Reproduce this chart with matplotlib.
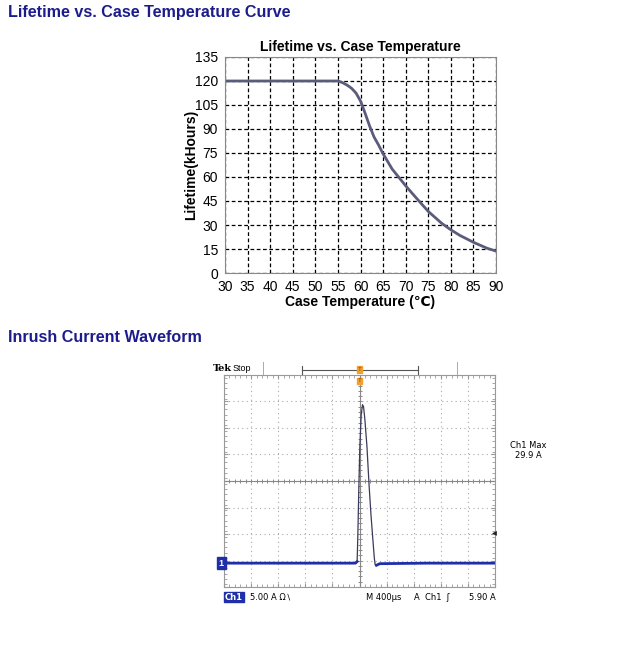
import numpy as np
import matplotlib
matplotlib.use("Agg")
import matplotlib.pyplot as plt
from matplotlib.ticker import MultipleLocator

plt.rcParams['font.family'] = ['Liberation Sans', 'DejaVu Sans']

# lifetime curve data
temp_c = [30, 35, 40, 45, 50, 55, 56, 57, 58, 59, 60, 61, 62, 63, 64, 65,
          67, 70, 72, 75, 78, 80, 82, 85, 88, 90]
life_kh = [120, 120, 120, 120, 120, 120, 119, 117.5, 115.5, 112.5, 107.5, 100,
           92, 85, 80, 74.5, 65, 54.5, 48, 38.5, 31, 27, 23.5, 19.2, 15.5, 13.7]
x_ticks = list(range(30, 91, 5))
y_ticks = list(range(0, 136, 15))

# inrush waveform data (time in us, current in A)
t_us = [-2000, -1000, -60, -35, -25, -10, 5, 25, 45, 60, 80, 110, 140, 170,
        200, 220, 232, 250, 300, 1000, 2000]
i_amp = [0.0, 0.0, 0.0, 0.3, 5.0, 14.0, 22.0, 28.0, 29.9, 29.5, 27.0, 22.0,
         15.0, 9.0, 4.0, 0.8, -0.3, -0.4, -0.1, 0.0, 0.0]
peak_amp = 29.9
trig_amp = 5.90

head_color = '#1c1c8c'

fig = plt.figure(figsize=(6.4, 6.54), dpi=100)

fig.text(8 / 640, 1 - 12 / 654, 'Lifetime vs. Case Temperature Curve',
         color=head_color, fontsize=11.6, fontweight='bold', va='center')
fig.text(8 / 640, 1 - 337 / 654, 'Inrush Current Waveform',
         color=head_color, fontsize=11.6, fontweight='bold', va='center')

# ---- lifetime chart ----
ax = fig.add_axes([225 / 640, 1 - 273 / 654, 271 / 640, 216 / 654])
ax.plot(temp_c, life_kh, color='#5b5b7b', lw=2.0, solid_capstyle='round')
ax.set_xlim(30, 90)
ax.set_ylim(0, 135)
ax.set_xticks(x_ticks)
ax.set_yticks(y_ticks)
ax.grid(True, color='black', linestyle=(0, (3, 2)), lw=0.9)
ax.tick_params(length=0, labelsize=10, pad=5)
for s in ax.spines.values():
    s.set_color('#888888')
ax.set_title('Lifetime vs. Case Temperature', fontsize=10, fontweight='bold', pad=4)
ax.set_xlabel('Case Temperature (\u2103)', fontsize=10, fontweight='bold', labelpad=1)
ax.set_ylabel('Lifetime(kHours)', fontsize=10, fontweight='bold')
ax.yaxis.set_label_coords(-0.1, 0.5)

# ---- scope screen ----
y_lo, y_hi = -4.5, 35.5
sx = fig.add_axes([224 / 640, 1 - 587 / 654, 271 / 640, 212 / 654])
sx.set_xlim(-2000, 2000)
sx.set_ylim(y_lo, y_hi)
sx.set_xticks(np.arange(-2000, 2001, 400))
sx.set_yticks(np.arange(y_lo, y_hi + 0.1, 5))
sx.xaxis.set_minor_locator(MultipleLocator(80))
sx.yaxis.set_minor_locator(MultipleLocator(1))
sx.grid(True, which='major', color='#aaaaaa', linestyle=(0, (1, 3)), lw=0.8)
sx.tick_params(which='both', direction='in', labelbottom=False, labelleft=False,
               top=True, right=True, color='#999999')
sx.tick_params(which='major', length=3)
sx.tick_params(which='minor', length=2)
for s in sx.spines.values():
    s.set_color('#999999')
y_mid = (y_lo + y_hi) / 2
sx.axhline(y_mid, color='#888888', lw=0.8)
sx.axvline(0, color='#888888', lw=0.8)
sx.plot(np.arange(-2000, 2001, 80), [y_mid] * 51, '|', color='#888888', ms=3, mew=0.7)
sx.plot([0] * 41, np.arange(y_lo, y_hi + 0.1, 1), '_', color='#888888', ms=3, mew=0.7)

# baseline thick, pulse thin
n_a, n_b = 3, 17
sx.plot(t_us[:n_a + 1], i_amp[:n_a + 1], color='#1f2fa8', lw=2.0)
sx.plot(t_us[n_a:n_b + 1], i_amp[n_a:n_b + 1], color='#3a3a5a', lw=0.9)
sx.plot(t_us[n_b:], i_amp[n_b:], color='#1f2fa8', lw=2.0)

# markers on screen edges
sx.text(-2000, 0, '1', transform=sx.transData, ha='right', va='center', fontsize=6.5,
        color='white', fontweight='bold',
        bbox=dict(boxstyle='square,pad=0.2', fc='#1f2fa8', ec='#1f2fa8'), clip_on=False)
sx.text(1.005, (trig_amp - y_lo) / (y_hi - y_lo), '\u25c2', transform=sx.transAxes,
        ha='right', va='center', fontsize=7, color='#222222')
sx.text(0, y_hi - 0.6, 'T', ha='center', va='top', fontsize=4.5, color='#884400',
        bbox=dict(boxstyle='square,pad=0.1', fc='#f0a030', ec='#f0a030'))

# header strip above screen
sx.plot([0.288, 0.716], [1.024, 1.024], transform=sx.transAxes, color='#555555',
        lw=0.8, clip_on=False)
for xf in (0.288, 0.716):
    sx.plot([xf, xf], [1.005, 1.043], transform=sx.transAxes, color='#555555',
            lw=0.8, clip_on=False)
for xf in (0.144, 0.860):
    sx.plot([xf, xf], [1.0, 1.06], transform=sx.transAxes, color='#aaaaaa',
            lw=0.7, clip_on=False)
sx.text(0.5, 1.026, 'T', transform=sx.transAxes, ha='center', va='center',
        fontsize=4.5, color='#884400', clip_on=False,
        bbox=dict(boxstyle='square,pad=0.1', fc='#f0a030', ec='#f0a030'))
fig.text(213 / 640, 1 - 369 / 654, 'Tek', fontsize=7, fontweight='bold',
         va='center', family='DejaVu Serif')
fig.text(233 / 640, 1 - 369 / 654, 'Stop', fontsize=6.5, va='center')

# readouts
fig.text(528 / 640, 1 - 445 / 654, 'Ch1 Max', fontsize=6, va='center', ha='center',
         family='DejaVu Sans')
fig.text(528 / 640, 1 - 455 / 654, '%.1f A' % peak_amp, fontsize=6, va='center',
         ha='center', family='DejaVu Sans')
fig.text(225 / 640, 1 - 597 / 654, 'Ch1', fontsize=6, va='center', color='white',
         fontweight='bold', family='DejaVu Sans',
         bbox=dict(boxstyle='square,pad=0.1', fc='#1f2fa8', ec='#1f2fa8'))
fig.text(250 / 640, 1 - 597 / 654, '5.00 A \u03a9\u2216', fontsize=6, va='center',
         family='DejaVu Sans')
fig.text(366 / 640, 1 - 597 / 654, 'M 400\u00b5s', fontsize=6, va='center',
         family='DejaVu Sans')
fig.text(414 / 640, 1 - 597 / 654, 'A  Ch1  \u0283', fontsize=6, va='center',
         family='DejaVu Sans')
fig.text(496 / 640, 1 - 597 / 654, '%.2f A' % trig_amp, fontsize=6, va='center',
         ha='right', family='DejaVu Sans')

fig.savefig('out.png', dpi=100)
